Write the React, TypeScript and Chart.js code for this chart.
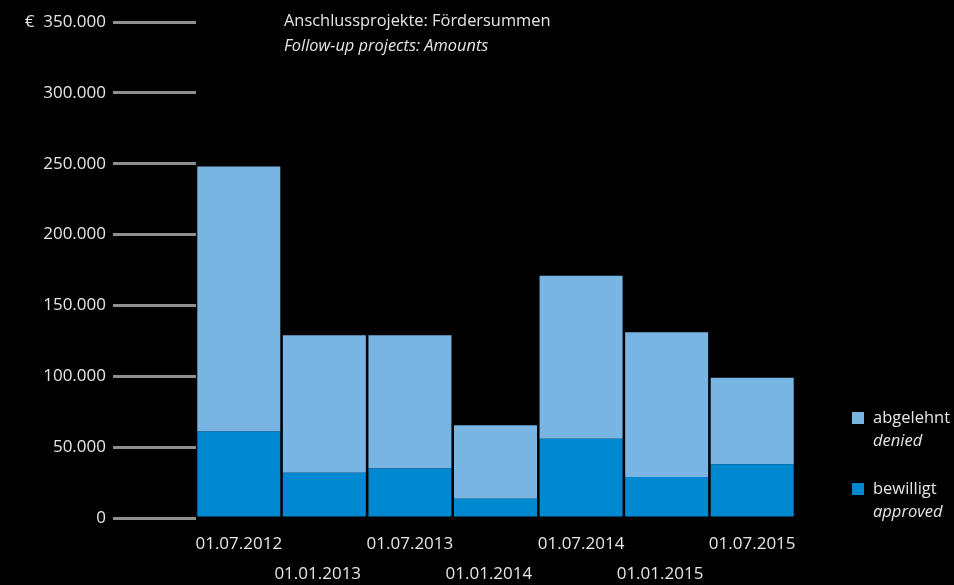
import React, { useEffect, useRef } from "react";
import { Chart, registerables } from "chart.js";

Chart.register(...registerables);

const categories = [
  ["01.07.2012", ""],
  ["", "01.01.2013   "],
  ["01.07.2013", ""],
  ["", "01.01.2014   "],
  ["01.07.2014", ""],
  ["", "01.01.2015   "],
  ["01.07.2015", ""],
];
const approved = [61000, 32000, 35000, 13500, 56000, 29000, 38000];
const denied = [187000, 97000, 94000, 52000, 115000, 102000, 61000];
const seriesNamesDe = ["abgelehnt", "bewilligt"];
const seriesNamesEn = ["denied", "approved"];
const titleDe = "Anschlussprojekte: Fördersummen";
const titleEn = "Follow-up projects: Amounts";
const yMax = 350000;
const yStep = 50000;

const COLOR_APPROVED = "#0088d1";
const COLOR_DENIED = "#78b5e2";
const FONT = "'Open Sans', sans-serif";

function fmt(v: number) {
  return v.toLocaleString("de-DE");
}

export default function App() {
  const ref = useRef<HTMLCanvasElement | null>(null);

  useEffect(() => {
    document.body.style.margin = "0";
    document.body.style.background = "#000";
    const canvas = ref.current;
    if (!canvas) return;

    const overlay = {
      id: "overlay",
      afterDraw(chart: any) {
        const ctx = chart.ctx;
        const area = chart.chartArea;
        ctx.save();
        ctx.fillStyle = "#e6e6e6";
        ctx.textBaseline = "middle";
        ctx.textAlign = "left";
        // title
        ctx.font = `16.4px ${FONT}`;
        ctx.fillText(titleDe, area.left + 88, 21);
        ctx.font = `italic 16.4px ${FONT}`;
        ctx.fillText(titleEn, area.left + 88, 46);
        // legend
        const entries = [
          { color: COLOR_DENIED, de: seriesNamesDe[0], en: seriesNamesEn[0], y: 418 },
          { color: COLOR_APPROVED, de: seriesNamesDe[1], en: seriesNamesEn[1], y: 489 },
        ];
        const lx = area.right + 57;
        for (const e of entries) {
          ctx.fillStyle = e.color;
          ctx.fillRect(lx, e.y - 6, 12, 12);
          ctx.fillStyle = "#e6e6e6";
          ctx.font = `16.5px ${FONT}`;
          ctx.fillText(e.de, lx + 21, e.y);
          ctx.font = `italic 16.5px ${FONT}`;
          ctx.fillText(e.en, lx + 21, e.y + 23);
        }
        ctx.restore();
      },
    };

    const chart = new Chart(canvas, {
      type: "bar",
      data: {
        labels: categories,
        datasets: [
          {
            label: seriesNamesEn[1],
            data: approved,
            backgroundColor: COLOR_APPROVED,
            barPercentage: 0.97,
            categoryPercentage: 1,
          },
          {
            label: seriesNamesEn[0],
            data: denied,
            backgroundColor: COLOR_DENIED,
            barPercentage: 0.97,
            categoryPercentage: 1,
          },
        ],
      },
      options: {
        animation: false,
        responsive: false,
        maintainAspectRatio: false,
        layout: { padding: { top: 22, right: 159, left: 0, bottom: 0 } },
        plugins: {
          legend: { display: false },
          tooltip: { enabled: false },
          title: { display: false },
        },
        scales: {
          x: {
            stacked: true,
            grid: { display: false, drawTicks: false },
            border: { display: false },
            ticks: {
              color: "#e6e6e6",
              font: { family: FONT, size: 17, lineHeight: 1.76 },
              padding: 11,
              maxRotation: 0,
              autoSkip: false,
            },
            afterFit(scale: any) {
              scale.height = 67;
            },
          },
          y: {
            stacked: true,
            min: 0,
            max: yMax,
            border: { display: false },
            grid: {
              drawOnChartArea: false,
              color: "#8f8f8f",
              lineWidth: 3,
              tickLength: 83,
            },
            ticks: {
              stepSize: yStep,
              color: "#e6e6e6",
              padding: 7,
              font: { family: FONT, size: 17 },
              callback: (v: any) => (Number(v) === yMax ? "€  " + fmt(Number(v)) : fmt(Number(v))),
            },
            afterFit(scale: any) {
              scale.width = 196;
            },
          },
        },
      },
      plugins: [overlay],
    });
    return () => chart.destroy();
  }, []);

  return (
    <div style={{ position: "absolute", left: 0, top: 0, width: 954, height: 585, background: "#000" }}>
      <canvas ref={ref} width={954} height={585} style={{ display: "block", width: 954, height: 585 }} />
    </div>
  );
}
